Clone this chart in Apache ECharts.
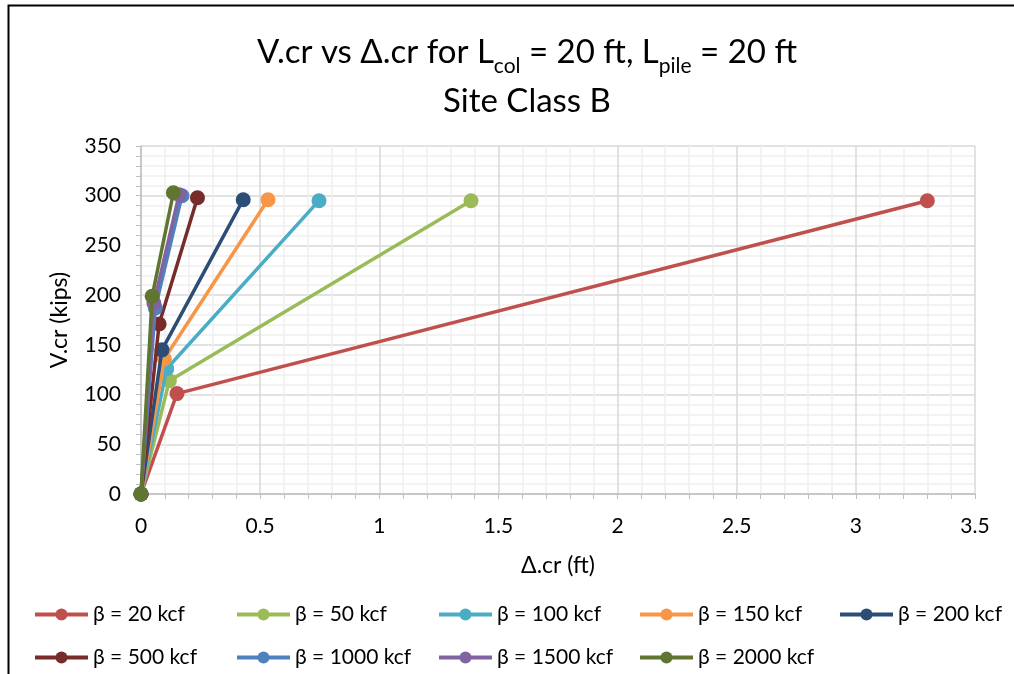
<!DOCTYPE html>
<html>
<head>
<meta charset="utf-8">
<script src="https://cdn.jsdelivr.net/npm/echarts@6/dist/echarts.min.js"></script>
<style>
  html, body { margin: 0; padding: 0; background: #fff; }
  #chart { width: 1014px; height: 674px; }
</style>
</head>
<body>
<div id="chart"></div>
<script>
// Critical shear V.cr (kips) against critical displacement Δ.cr (ft), per soil stiffness β
const seriesNames = ['β = 20 kcf', 'β = 50 kcf', 'β = 100 kcf', 'β = 150 kcf', 'β = 200 kcf',
                     'β = 500 kcf', 'β = 1000 kcf', 'β = 1500 kcf', 'β = 2000 kcf'];
const b20   = [[0, 0], [0.151, 101], [3.30, 295]];
const b50   = [[0, 0], [0.119, 114], [1.385, 295]];
const b100  = [[0, 0], [0.108, 126], [0.747, 295]];
const b150  = [[0, 0], [0.098, 136], [0.533, 296]];
const b200  = [[0, 0], [0.088, 145], [0.429, 296]];
const b500  = [[0, 0], [0.076, 171], [0.237, 298]];
const b1000 = [[0, 0], [0.060, 187], [0.172, 300]];
const b1500 = [[0, 0], [0.054, 192], [0.160, 301]];
const b2000 = [[0, 0], [0.047, 199], [0.136, 303]];
const seriesData = [b20, b50, b100, b150, b200, b500, b1000, b1500, b2000];

// axis ticks and their labels
const xTickValues = [0, 0.5, 1, 1.5, 2, 2.5, 3, 3.5];
const xTickLabels = ['0', '0.5', '1', '1.5', '2', '2.5', '3', '3.5'];
const yTickValues = [0, 50, 100, 150, 200, 250, 300, 350];
const yTickLabels = ['0', '50', '100', '150', '200', '250', '300', '350'];

const seriesColors = ['#C0504D', '#9BBB59', '#4BACC6', '#F79646', '#2C4D75',
                      '#772C2A', '#4F81BD', '#8064A2', '#5F7530'];

const FONT = 'Lato';
const chart = echarts.init(document.getElementById('chart'), null, { renderer: 'canvas' });

// legend laid out on a fixed 5-column grid, two rows
const legendCols = [33, 235, 437, 638, 838];
const legendRows = [604, 647];
const legends = seriesNames.map((name, i) => ({
  left: legendCols[i % 5],
  top: legendRows[Math.floor(i / 5)],
  padding: 0,
  itemWidth: 53,
  itemHeight: 15,
  lineStyle: { width: 4 },
  textStyle: { fontFamily: FONT, fontSize: 21, color: '#000' },
  selectedMode: false,
  data: [name]
}));

const axisCommon = {
  type: 'value',
  nameLocation: 'middle',
  nameTextStyle: { fontFamily: FONT, fontSize: 23, color: '#000' },
  axisLabel: { show: false },
  axisLine: { show: true, lineStyle: { color: '#BFBFBF', width: 1.5 } },
  axisTick: { show: true, length: 5, lineStyle: { color: '#BFBFBF' } },
  minorTick: { show: true, splitNumber: 5, length: 5, lineStyle: { color: '#BFBFBF' } },
  splitLine: { show: true, lineStyle: { color: '#D9D9D9', width: 1.5 } },
  minorSplitLine: { show: true, lineStyle: { color: '#F0F0F0', width: 1.5 } }
};

const frame = {
  id: 'frame',
  type: 'polyline',
  shape: { points: [[8.5, 674], [8.5, 5.5], [1014, 5.5]] },
  style: { stroke: '#000', lineWidth: 2, fill: null },
  silent: true
};

chart.setOption({
  animation: false,
  title: {
    left: 522,
    top: 23,
    textAlign: 'center',
    text: '{m|V.cr vs Δ.cr for L}{s|col}{m| = 20 ft, L}{s|pile}{m| = 20 ft}\n{m|Site Class B}',
    textStyle: {
      fontWeight: 'normal',
      rich: {
        m: { fontFamily: FONT, fontSize: 33, fontWeight: 'normal', color: '#000', lineHeight: 49 },
        s: { fontFamily: FONT, fontSize: 21, fontWeight: 'normal', color: '#000', lineHeight: 31, verticalAlign: 'bottom' }
      }
    }
  },
  legend: legends,
  grid: { left: 141, right: 39, top: 146, bottom: 180 },
  xAxis: Object.assign({}, axisCommon, {
    min: 0, max: 3.5, interval: 0.5,
    name: 'Δ.cr (ft)',
    nameGap: 60
  }),
  yAxis: Object.assign({}, axisCommon, {
    min: 0, max: 350, interval: 50,
    name: 'V.cr (kips)',
    nameGap: 70
  }),
  graphic: [frame],
  series: seriesNames.map((name, i) => ({
    name: name,
    type: 'line',
    data: seriesData[i],
    symbol: 'circle',
    symbolSize: 15,
    showAllSymbol: true,
    color: seriesColors[i],
    lineStyle: { width: 3.5, color: seriesColors[i] },
    itemStyle: { color: seriesColors[i] },
    z: 2 + i
  }))
});

// tick labels placed through the chart's own coordinate system
const labelStyle = { font: '21px Lato', fontFamily: FONT, fontSize: 21, fill: '#000' };
const tickTexts = [];
xTickValues.forEach((v, i) => {
  const p = chart.convertToPixel({ gridIndex: 0 }, [v, 0]);
  tickTexts.push({
    type: 'text', silent: true, x: p[0], y: p[1] + 32,
    style: Object.assign({ text: xTickLabels[i], align: 'center', verticalAlign: 'middle' }, labelStyle)
  });
});
yTickValues.forEach((v, i) => {
  const p = chart.convertToPixel({ gridIndex: 0 }, [0, v]);
  tickTexts.push({
    type: 'text', silent: true, x: p[0] - 20, y: p[1],
    style: Object.assign({ text: yTickLabels[i], align: 'right', verticalAlign: 'middle' }, labelStyle)
  });
});
chart.setOption({ graphic: [frame].concat(tickTexts) });
</script>
</body>
</html>
